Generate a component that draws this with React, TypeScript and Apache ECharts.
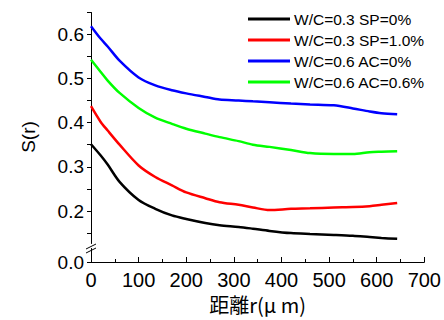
import React, { useEffect, useRef } from "react";
import * as echarts from "echarts";

const distances = [0, 20, 35, 60, 100, 135, 170, 200, 240, 270, 310, 340, 375, 420, 460, 510, 550, 585, 610, 643];
const seriesNames = ["W/C=0.3 SP=0%", "W/C=0.3 SP=1.0%", "W/C=0.6 AC=0%", "W/C=0.6 AC=0.6%"];
const seriesColors = ["#000000", "#ff0000", "#0000ff", "#00ff00"];
const wc03sp0 = [0.351, 0.326, 0.305, 0.266, 0.225, 0.205, 0.19, 0.182, 0.173, 0.168, 0.164, 0.16, 0.155, 0.15, 0.148, 0.146, 0.144, 0.141, 0.139, 0.137];
const wc03sp10 = [0.437, 0.402, 0.382, 0.35, 0.303, 0.277, 0.258, 0.242, 0.229, 0.22, 0.214, 0.208, 0.202, 0.205, 0.206, 0.208, 0.209, 0.211, 0.214, 0.218];
const wc06ac0 = [0.618, 0.59, 0.572, 0.54, 0.502, 0.484, 0.473, 0.466, 0.458, 0.452, 0.45, 0.448, 0.446, 0.443, 0.441, 0.439, 0.432, 0.425, 0.421, 0.419];
const wc06ac06 = [0.542, 0.515, 0.495, 0.467, 0.433, 0.411, 0.397, 0.386, 0.375, 0.367, 0.358, 0.35, 0.345, 0.338, 0.331, 0.329, 0.329, 0.333, 0.334, 0.335];
const allValues = [wc03sp0, wc03sp10, wc06ac0, wc06ac06];
const xTicks = [0, 100, 200, 300, 400, 500, 600, 700];
const yLabelValues = [0, 0.2, 0.3, 0.4, 0.5, 0.6];
const yTickValues = [0, 0.15, 0.2, 0.25, 0.3, 0.35, 0.4, 0.45, 0.5, 0.55, 0.6, 0.65];

const FONT = "'Liberation Sans', Arial, sans-serif";

export default function App() {
  const ref = useRef<HTMLDivElement>(null);
  useEffect(() => {
    document.body.style.margin = "0";
    const chart = echarts.init(ref.current!, null, { renderer: "svg" });
    chart.setOption({
      animation: false,
      backgroundColor: "#ffffff",
      grid: { left: 91, right: 18, top: 12, bottom: 58 },
      legend: {
        orient: "vertical",
        left: 243,
        top: 6,
        icon: "rect",
        itemWidth: 42,
        itemHeight: 3,
        itemGap: 5,
        textStyle: { fontFamily: FONT, fontSize: 15.5, color: "#000", padding: [0, 0, 0, -1] },
        data: seriesNames,
      },
      xAxis: {
        type: "value",
        min: xTicks[0],
        max: xTicks[xTicks.length - 1],
        interval: 100,
        name: "距離r(μ m)",
        nameLocation: "middle",
        nameGap: 23,
        nameTextStyle: { fontFamily: "'Noto Sans CJK JP', sans-serif", fontSize: 20, color: "#000" },
        axisLine: { lineStyle: { color: "#000", width: 1 } },
        axisTick: { inside: true, length: 5, lineStyle: { color: "#000" } },
        minorTick: { show: true, splitNumber: 2, length: 3, lineStyle: { color: "#000" } },
        axisLabel: { fontFamily: FONT, fontSize: 20, color: "#000", margin: 8 },
        splitLine: { show: false },
      },
      yAxis: {
        type: "value",
        min: 0,
        max: 0.65,
        breaks: [{ start: 0.03, end: 0.126, gap: "2%" }],
        breakArea: { show: false },
        name: "S(r)",
        nameLocation: "middle",
        nameGap: 53,
        nameTextStyle: { fontFamily: FONT, fontSize: 19, color: "#000" },
        axisLine: { show: true, lineStyle: { color: "#000", width: 1 } },
        axisTick: { show: true, length: 4, customValues: yTickValues, lineStyle: { color: "#000" } },
        minorTick: { show: false },
        axisLabel: {
          fontFamily: FONT,
          fontSize: 19,
          color: "#000",
          margin: 7,
          customValues: yLabelValues,
          formatter: (v: number) => v.toFixed(1),
        },
        splitLine: { show: false },
      },
      graphic: [
        { type: "line", shape: { x1: 86, y1: 249, x2: 96, y2: 244 }, style: { stroke: "#000", lineWidth: 1 } },
        { type: "line", shape: { x1: 86, y1: 253, x2: 96, y2: 248 }, style: { stroke: "#000", lineWidth: 1 } },
      ],
      series: allValues.map((vals, i) => ({
        name: seriesNames[i],
        type: "line",
        showSymbol: false,
        smooth: 0.3,
        color: seriesColors[i],
        lineStyle: { width: 2.5, color: seriesColors[i] },
        data: distances.map((d, j) => [d, vals[j]]),
      })),
    });
    return () => chart.dispose();
  }, []);
  return <div ref={ref} style={{ width: 444, height: 320 }} />;
}
